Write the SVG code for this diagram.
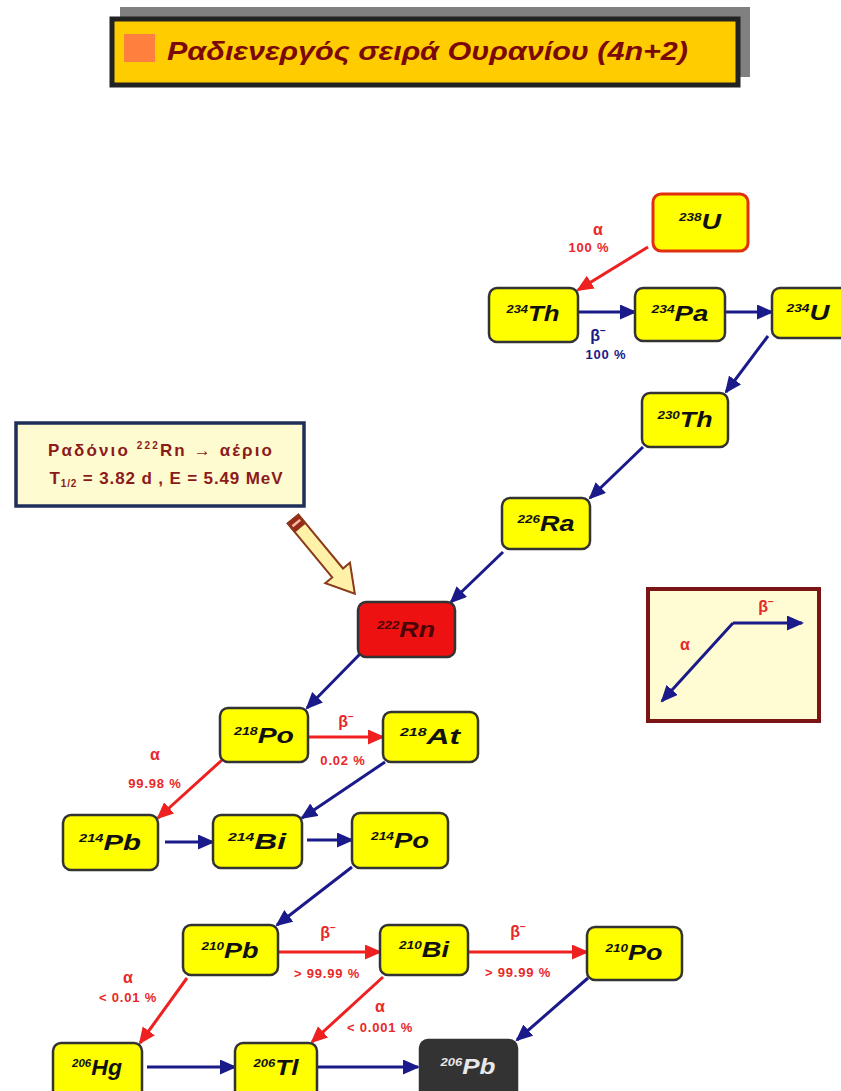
<svg xmlns="http://www.w3.org/2000/svg" width="841" height="1091" viewBox="0 0 841 1091">
<style>
.node rect{fill:#ffff00;stroke:#333;stroke-width:2.5}
.nt{font-family:"Liberation Sans",Arial,sans-serif;font-weight:bold;font-style:italic;font-size:22px;fill:#111;text-anchor:middle}
.sup{font-size:11px}
.lab{font-family:"Liberation Sans",Arial,sans-serif;font-weight:bold;font-size:13px;text-anchor:middle;letter-spacing:0.8px}
.gl{font-size:16px;letter-spacing:0}
.red{fill:#e82828}
.blue{fill:#1a1a8a}
.bl{stroke:#1a1a8a;stroke-width:3;fill:none}
.rl{stroke:#ee2020;stroke-width:3;fill:none}
.info{font-family:"Liberation Sans",Arial,sans-serif;font-weight:bold;font-size:17px;fill:#8b1a1a;text-anchor:middle}
</style>
<defs>
<marker id="ab" markerUnits="userSpaceOnUse" markerWidth="18" markerHeight="16" refX="15" refY="7.5" orient="auto"><path d="M0,0 L17,7.5 L0,15 z" fill="#1a1a8a"/></marker>
<marker id="ar" markerUnits="userSpaceOnUse" markerWidth="18" markerHeight="16" refX="15" refY="7.5" orient="auto"><path d="M0,0 L17,7.5 L0,15 z" fill="#ee2020"/></marker>
</defs>
<rect width="841" height="1091" fill="#fff"/>

<g id="title">
<rect x="120" y="7" width="630" height="70" fill="#808080"/>
<rect x="112" y="19" width="626" height="66" fill="#ffcc00" stroke="#222" stroke-width="5"/>
<rect x="124" y="34" width="31" height="28" fill="#ff7f3f"/>
<text x="167" y="60" textLength="521" lengthAdjust="spacingAndGlyphs" style="font-family:'Liberation Sans',Arial,sans-serif;font-weight:bold;font-style:italic;font-size:25px;fill:#7a0a0a">Ραδιενεργός σειρά Ουρανίου (4n+2)</text>
</g>

<g id="connectors">
<line class="rl" x1="648" y1="247" x2="578" y2="290" marker-end="url(#ar)"/>
<line class="bl" x1="578" y1="312" x2="635" y2="312" marker-end="url(#ab)"/>
<line class="bl" x1="725" y1="312" x2="772" y2="312" marker-end="url(#ab)"/>
<line class="bl" x1="768" y1="336" x2="726" y2="392" marker-end="url(#ab)"/>
<line class="bl" x1="643" y1="447" x2="590" y2="498" marker-end="url(#ab)"/>
<line class="bl" x1="503" y1="552" x2="451" y2="602" marker-end="url(#ab)"/>
<line class="bl" x1="360" y1="654" x2="307" y2="708" marker-end="url(#ab)"/>
<line class="rl" x1="308" y1="737" x2="383" y2="737" marker-end="url(#ar)"/>
<line class="rl" x1="222" y1="760" x2="158" y2="818" marker-end="url(#ar)"/>
<line class="bl" x1="385" y1="762" x2="302" y2="818" marker-end="url(#ab)"/>
<line class="bl" x1="165" y1="842" x2="213" y2="842" marker-end="url(#ab)"/>
<line class="bl" x1="307" y1="840" x2="352" y2="840" marker-end="url(#ab)"/>
<line class="bl" x1="352" y1="867" x2="277" y2="925" marker-end="url(#ab)"/>
<line class="rl" x1="278" y1="952" x2="380" y2="952" marker-end="url(#ar)"/>
<line class="rl" x1="468" y1="952" x2="587" y2="952" marker-end="url(#ar)"/>
<line class="rl" x1="187" y1="978" x2="140" y2="1043" marker-end="url(#ar)"/>
<line class="rl" x1="383" y1="977" x2="312" y2="1042" marker-end="url(#ar)"/>
<line class="bl" x1="588" y1="978" x2="517" y2="1040" marker-end="url(#ab)"/>
<line class="bl" x1="147" y1="1067" x2="235" y2="1067" marker-end="url(#ab)"/>
<line class="bl" x1="317" y1="1067" x2="418" y2="1067" marker-end="url(#ab)"/>
<text class="lab gl red" x="598" y="235">α</text>
<text class="lab red" x="589" y="252">100 %</text>
<text class="lab gl blue" x="598" y="341">β<tspan font-size="10" dy="-7">−</tspan></text>
<text class="lab blue" x="606" y="359">100 %</text>
<text class="lab gl red" x="346" y="727">β<tspan font-size="10" dy="-7">−</tspan></text>
<text class="lab red" x="343" y="765">0.02 %</text>
<text class="lab gl red" x="155" y="760">α</text>
<text class="lab red" x="155" y="788">99.98 %</text>
<text class="lab gl red" x="328" y="938">β<tspan font-size="10" dy="-7">−</tspan></text>
<text class="lab red" x="327" y="978">&gt; 99.99 %</text>
<text class="lab gl red" x="518" y="937">β<tspan font-size="10" dy="-7">−</tspan></text>
<text class="lab red" x="518" y="977">&gt; 99.99 %</text>
<text class="lab gl red" x="128" y="983">α</text>
<text class="lab red" x="128" y="1002">&lt; 0.01 %</text>
<text class="lab gl red" x="380" y="1012">α</text>
<text class="lab red" x="380" y="1032">&lt; 0.001 %</text>
</g>

<g id="n238U" class="node"><rect x="653" y="194" width="95" height="57" rx="8" style="stroke:#e03010;stroke-width:3"/><text class="nt" x="700" y="229" textLength="42" lengthAdjust="spacingAndGlyphs"><tspan class="sup" dy="-8">238</tspan><tspan dy="8">U</tspan></text></g>
<g id="n234Th" class="node"><rect x="489" y="288" width="89" height="54" rx="8"/><text class="nt" x="533" y="321" textLength="53" lengthAdjust="spacingAndGlyphs"><tspan class="sup" dy="-8">234</tspan><tspan dy="8">Th</tspan></text></g>
<g id="n234Pa" class="node"><rect x="635" y="288" width="90" height="53" rx="8"/><text class="nt" x="680" y="321" textLength="57" lengthAdjust="spacingAndGlyphs"><tspan class="sup" dy="-8">234</tspan><tspan dy="8">Pa</tspan></text></g>
<g id="n234U" class="node"><rect x="772" y="288" width="84" height="50" rx="8"/><text class="nt" x="808" y="320" textLength="43" lengthAdjust="spacingAndGlyphs"><tspan class="sup" dy="-8">234</tspan><tspan dy="8">U</tspan></text></g>
<g id="n230Th" class="node"><rect x="642" y="393" width="86" height="54" rx="8"/><text class="nt" x="685" y="427" textLength="55" lengthAdjust="spacingAndGlyphs"><tspan class="sup" dy="-8">230</tspan><tspan dy="8">Th</tspan></text></g>
<g id="n226Ra" class="node"><rect x="502" y="498" width="88" height="51" rx="8"/><text class="nt" x="546" y="531" textLength="57" lengthAdjust="spacingAndGlyphs"><tspan class="sup" dy="-8">226</tspan><tspan dy="8">Ra</tspan></text></g>
<g id="n222Rn" class="node"><rect x="358" y="602" width="97" height="55" rx="8" style="fill:#ee1111"/><text class="nt" x="406" y="637" textLength="58" lengthAdjust="spacingAndGlyphs" style="fill:#4a0505"><tspan class="sup" dy="-8">222</tspan><tspan dy="8">Rn</tspan></text></g>
<g id="n218Po" class="node"><rect x="220" y="708" width="88" height="54" rx="8"/><text class="nt" x="264" y="743" textLength="60" lengthAdjust="spacingAndGlyphs"><tspan class="sup" dy="-8">218</tspan><tspan dy="8">Po</tspan></text></g>
<g id="n218At" class="node"><rect x="383" y="712" width="95" height="50" rx="8"/><text class="nt" x="430" y="744" textLength="60" lengthAdjust="spacingAndGlyphs"><tspan class="sup" dy="-8">218</tspan><tspan dy="8">At</tspan></text></g>
<g id="n214Pb" class="node"><rect x="63" y="815" width="95" height="55" rx="8"/><text class="nt" x="110" y="850" textLength="62" lengthAdjust="spacingAndGlyphs"><tspan class="sup" dy="-8">214</tspan><tspan dy="8">Pb</tspan></text></g>
<g id="n214Bi" class="node"><rect x="213" y="815" width="89" height="53" rx="8"/><text class="nt" x="257" y="849" textLength="58" lengthAdjust="spacingAndGlyphs"><tspan class="sup" dy="-8">214</tspan><tspan dy="8">Bi</tspan></text></g>
<g id="n214Po" class="node"><rect x="352" y="813" width="96" height="55" rx="8"/><text class="nt" x="400" y="848" textLength="58" lengthAdjust="spacingAndGlyphs"><tspan class="sup" dy="-8">214</tspan><tspan dy="8">Po</tspan></text></g>
<g id="n210Pb" class="node"><rect x="183" y="925" width="95" height="50" rx="8"/><text class="nt" x="230" y="958" textLength="57" lengthAdjust="spacingAndGlyphs"><tspan class="sup" dy="-8">210</tspan><tspan dy="8">Pb</tspan></text></g>
<g id="n210Bi" class="node"><rect x="380" y="925" width="88" height="50" rx="8"/><text class="nt" x="424" y="957" textLength="50" lengthAdjust="spacingAndGlyphs"><tspan class="sup" dy="-8">210</tspan><tspan dy="8">Bi</tspan></text></g>
<g id="n210Po" class="node"><rect x="587" y="927" width="95" height="53" rx="8"/><text class="nt" x="634" y="960" textLength="57" lengthAdjust="spacingAndGlyphs"><tspan class="sup" dy="-8">210</tspan><tspan dy="8">Po</tspan></text></g>
<g id="n206Hg" class="node"><rect x="53" y="1043" width="89" height="60" rx="8"/><text class="nt" x="97" y="1075" textLength="50" lengthAdjust="spacingAndGlyphs"><tspan class="sup" dy="-8">206</tspan><tspan dy="8">Hg</tspan></text></g>
<g id="n206Tl" class="node"><rect x="235" y="1043" width="82" height="60" rx="8"/><text class="nt" x="276" y="1075" textLength="45" lengthAdjust="spacingAndGlyphs"><tspan class="sup" dy="-8">206</tspan><tspan dy="8">Tl</tspan></text></g>
<g id="n206Pb" class="node"><rect x="420" y="1040" width="97" height="60" rx="8" style="fill:#333"/><text class="nt" x="468" y="1074" textLength="55" lengthAdjust="spacingAndGlyphs" style="fill:#e8e8e8"><tspan class="sup" dy="-8">206</tspan><tspan dy="8">Pb</tspan></text></g>

<g id="info">
<rect x="16" y="423" width="288" height="83" fill="#fffbd0" stroke="#1f2f5a" stroke-width="3.5"/>
<text class="info" x="160" y="456" textLength="224" lengthAdjust="spacing">Ραδόνιο  <tspan font-size="10" dy="-7">222</tspan><tspan dy="7">Rn → αέριο</tspan></text>
<text class="info" x="166" y="484" textLength="233" lengthAdjust="spacing">T<tspan font-size="10" dy="3">1/2</tspan><tspan dy="-3"> = 3.82 d ,  E = 5.49 MeV</tspan></text>
</g>

<g id="pointer" transform="translate(293,519) rotate(50.4)">
<polygon points="0,-7 70,-7 70,-16 97,0 70,16 70,7 0,7" fill="#fff2a8" stroke="#8b3a1a" stroke-width="2"/>
<rect x="0" y="-7" width="11" height="14" fill="#9b2a1a" stroke="#8b3a1a" stroke-width="1.5"/>
<rect x="4" y="-5" width="2.5" height="10" fill="#f4c0a0"/>
</g>

<g id="legend">
<rect x="648" y="589" width="171" height="132" fill="#fffcd4" stroke="#7b1515" stroke-width="4"/>
<line class="bl" x1="733" y1="623" x2="802" y2="623" marker-end="url(#ab)"/>
<line class="bl" x1="733" y1="623" x2="662" y2="701" marker-end="url(#ab)"/>
<text class="lab gl red" x="766" y="612">β<tspan font-size="10" dy="-7">−</tspan></text>
<text class="lab gl red" x="685" y="650">α</text>
</g>
</svg>
